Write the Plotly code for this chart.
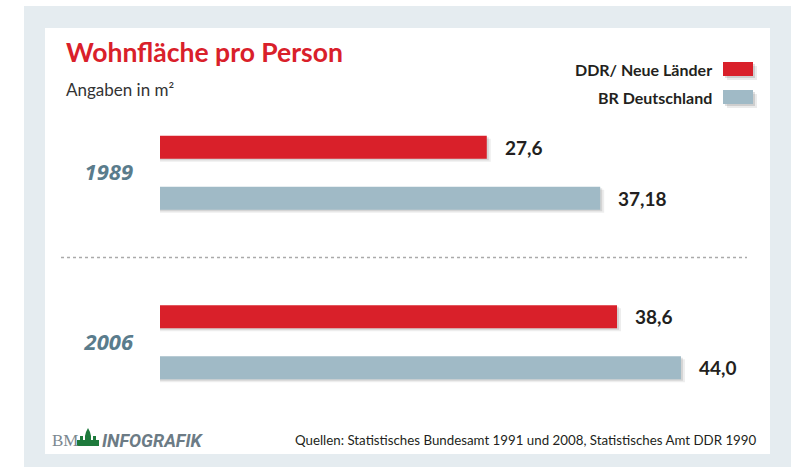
import plotly.graph_objects as go

# ---- data ----
years = ["1989", "2006"]
ddr_values = [27.6, 38.6]        # DDR / Neue Länder
brd_values = [37.18, 44.0]       # BR Deutschland
series_names = ["DDR/ Neue Länder", "BR Deutschland"]
title_text = "Wohnfläche pro Person"
subtitle_text = "Angaben in m²"
source_text = "Quellen: Statistisches Bundesamt 1991 und 2008, Statistisches Amt DDR 1990"

# ---- style ----
RED = "#d9202a"
BLUE = "#a0bac6"
YEAR_COL = "#5a7c8c"
DARK = "#231f20"
FRAME = "#e5ecf0"
FONT = "Lato"

W, H = 803, 467
L, R, T, B = 160, 51, 88, 40
pw, ph = W - L - R, H - T - B
XMAX = 50.0
px_per_unit = pw / XMAX
pitch = ph / len(years)


def fx(x):
    return (x - L) / pw


def fy(y):
    return 1 - (y - T) / ph


def ds(values):
    return [f"{v}".replace(".", ",") for v in values]


bar_w = 23 / pitch
red_off = -37 / pitch
blue_off = 14 / pitch
sh_dx = 4 / px_per_unit
sh_dy = 3 / pitch

fig = go.Figure()

# shadows
for vals, off in ((ddr_values, red_off), (brd_values, blue_off)):
    for k, a in ((1.0, 0.07), (0.5, 0.10)):
        fig.add_bar(
            y=years, x=[v + sh_dx * k for v in vals], orientation="h",
            offset=off + sh_dy * k, width=bar_w,
            marker=dict(color=f"rgba(0,0,0,{a})", line=dict(width=0)),
            hoverinfo="skip", showlegend=False,
        )

fig.add_bar(y=years, x=ddr_values, orientation="h", name=series_names[0],
            offset=red_off, width=bar_w,
            marker=dict(color=RED, line=dict(width=0)), showlegend=False)
fig.add_bar(y=years, x=brd_values, orientation="h", name=series_names[1],
            offset=blue_off, width=bar_w,
            marker=dict(color=BLUE, line=dict(width=0)), showlegend=False)

annotations = []
for vals, ys in ((ddr_values, 25.5), (brd_values, -25.5)):
    for i, (v, t) in enumerate(zip(vals, ds(vals))):
        annotations.append(dict(
            x=v, y=i, xref="x", yref="y", text=f"<b>{t}</b>", showarrow=False,
            xanchor="left", yanchor="middle", xshift=16, yshift=ys,
            font=dict(family=FONT, size=19, color=DARK)))

# title & subtitle
annotations.append(dict(x=fx(64), y=fy(52), xref="paper", yref="paper",
                        text=f"<b>{title_text}</b>", showarrow=False,
                        xanchor="left", yanchor="middle",
                        font=dict(family=FONT, size=26.5, color=RED)))
annotations.append(dict(x=fx(64), y=fy(90), xref="paper", yref="paper",
                        text=subtitle_text, showarrow=False,
                        xanchor="left", yanchor="middle",
                        font=dict(family=FONT, size=17, color="#333333")))

# legend
legend_rows = [(series_names[0], RED, 69), (series_names[1], BLUE, 97)]
shapes = [
    dict(type="rect", xref="paper", yref="paper", x0=fx(24), x1=fx(791),
         y0=fy(6), y1=fy(470), fillcolor=FRAME, line=dict(width=0), layer="below"),
    dict(type="rect", xref="paper", yref="paper", x0=fx(45), x1=fx(770),
         y0=fy(28), y1=fy(454), fillcolor="white", line=dict(width=0), layer="below"),
    dict(type="line", xref="paper", yref="y", x0=fx(61), x1=fx(747), y0=0.5, y1=0.5,
         line=dict(color="#aaaaaa", width=1.5, dash="dot")),
]
for name, col, yc in legend_rows:
    annotations.append(dict(x=fx(714), y=fy(yc), xref="paper", yref="paper",
                            text=f"<b>{name}</b>", showarrow=False,
                            xanchor="right", yanchor="middle",
                            font=dict(family=FONT, size=16, color=DARK)))
    for d, a in ((4, 0.08), (2, 0.12)):
        shapes.append(dict(type="rect", xref="paper", yref="paper",
                           x0=fx(723 + d), x1=fx(753 + d), y0=fy(yc - 7 + d), y1=fy(yc + 7 + d),
                           fillcolor=f"rgba(0,0,0,{a})", line=dict(width=0)))
    shapes.append(dict(type="rect", xref="paper", yref="paper",
                       x0=fx(723), x1=fx(753), y0=fy(yc - 7), y1=fy(yc + 7),
                       fillcolor=col, line=dict(width=0)))

# footer logo
annotations.append(dict(x=fx(50), y=fy(440), xref="paper", yref="paper",
                        text="BM", showarrow=False, xanchor="left", yanchor="middle",
                        font=dict(family="Liberation Serif", size=17, color="#7b8890")))
logo_pts = [(77, 446), (77, 440), (80, 440), (80, 436), (83, 436), (83, 440), (85, 440),
            (85, 436), (86, 432), (88, 428), (90, 432), (91, 436), (91, 440), (93, 440),
            (93, 436), (96, 436), (96, 440), (99, 440), (99, 446)]
path = "M " + " L ".join(f"{fx(x):.5f},{fy(y):.5f}" for x, y in logo_pts) + " Z"
shapes.append(dict(type="path", xref="paper", yref="paper", path=path,
                   fillcolor="#1e7a3c", line=dict(width=0)))
annotations.append(dict(x=fx(100), y=fy(440), xref="paper", yref="paper",
                        text="<b><i>INFOGRAFIK</i></b>", showarrow=False,
                        xanchor="left", yanchor="middle",
                        font=dict(family="Roboto", size=18, color="#6c7b85")))
annotations.append(dict(x=fx(759), y=fy(440), xref="paper", yref="paper",
                        text=source_text, showarrow=False,
                        xanchor="right", yanchor="middle",
                        font=dict(family=FONT, size=13.3, color=DARK)))

fig.update_layout(
    width=W, height=H,
    margin=dict(l=L, r=R, t=T, b=B),
    paper_bgcolor="white", plot_bgcolor="rgba(0,0,0,0)",
    barmode="overlay",
    showlegend=False,
    xaxis=dict(range=[0, XMAX], visible=False, fixedrange=True),
    yaxis=dict(type="category", categoryorder="array", categoryarray=years,
               range=[len(years) - 0.5, -0.5], showgrid=False, zeroline=False,
               showline=False, ticks="", ticklabelstandoff=26, fixedrange=True,
               tickfont=dict(family="Open Sans", size=22, color=YEAR_COL,
                             weight="bold", style="italic")),
    shapes=shapes, annotations=annotations,
)

fig.write_html("out.html", config={"displayModeBar": False})
with open("out.html", encoding="utf-8") as f:
    html = f.read()
html = html.replace("<head>", "<head><style>html,body{margin:0;padding:0;}</style>", 1)
with open("out.html", "w", encoding="utf-8") as f:
    f.write(html)
